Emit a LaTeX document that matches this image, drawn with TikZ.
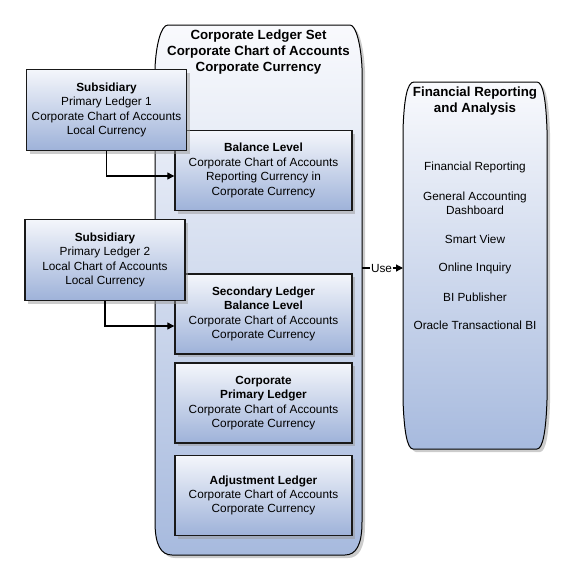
\documentclass[tikz,border=0pt]{standalone}
\usepackage{fontspec}
\setmainfont{Liberation Sans}
\usetikzlibrary{arrows.meta,shadows}
\definecolor{boxtop}{HTML}{F4F6FB}
\definecolor{boxbottom}{HTML}{9EB2D9}
\definecolor{settop}{HTML}{F9FAFD}
\definecolor{setbottom}{HTML}{A7BADE}
\begin{document}
\begin{tikzpicture}[x = 1pt, y = -1pt, line width = 1.2pt, >={Triangle[length=7pt, width=7pt]},
                      shade/.style = {drop shadow = {shadow xshift = 3pt, shadow yshift = -3pt, fill = black!40, opacity = 0.5}},
                      ledger/.style = {shade, draw = black!90, line width = 1.4pt, top color = boxtop, bottom color = boxbottom,
                                       minimum width = 177pt, minimum height = 80pt, inner sep = 0pt, align = center,
                                       font = \fontsize{11.8}{14.4}\selectfont},
                      sub/.style = {ledger, minimum width = 160pt, minimum height = 81pt},
                      frame/.style = {shade, draw = black, line width = 1pt, top color = settop, bottom color = setbottom},
                      head/.style = {align = center, font = \fontsize{13.3}{16}\selectfont\bfseries},
                      item/.style = {align = center, font = \fontsize{11.8}{14.4}\selectfont}]
    \useasboundingbox (0, 0) rectangle (575, 584);
    \draw [frame] (155, 68) .. controls (156, 45) and (161, 25) .. (168, 25) -- (350, 25)
        .. controls (356, 25) and (361, 45) .. (362, 68) -- (362, 522)
        .. controls (362, 545) and (356, 555) .. (345, 555) -- (172, 555)
        .. controls (161, 555) and (155, 545) .. (155, 522) -- cycle;
    \draw [frame] (403, 130) .. controls (404, 100) and (407, 82) .. (414, 82) -- (537, 82)
        .. controls (543, 82) and (546, 100) .. (547, 130) -- (547, 400)
        .. controls (546, 430) and (543, 449) .. (537, 449) -- (413, 449)
        .. controls (407, 449) and (404, 430) .. (403, 400) -- cycle;
    \node [head] (settitle) at (258.5, 52) {Corporate Ledger Set\\Corporate Chart of Accounts\\Corporate Currency};
    \node [head] (reptitle) at (475, 101.5) {Financial Reporting\\and Analysis};
    \node [ledger] (bal) at (263.5, 170.5) {\textbf{Balance Level}\\Corporate Chart of Accounts\\Reporting Currency in\\Corporate Currency};
    \node [ledger] (sec) at (263.5, 314) {\textbf{Secondary Ledger}\\\textbf{Balance Level}\\Corporate Chart of Accounts\\Corporate Currency};
    \node [ledger] (corp) at (263.5, 403) {\textbf{Corporate}\\\textbf{Primary Ledger}\\Corporate Chart of Accounts\\Corporate Currency};
    \node [ledger] (adj) at (263.5, 495.5) {\textbf{Adjustment Ledger}\\Corporate Chart of Accounts\\Corporate Currency};
    \node [sub] (sub1) at (106.5, 110) {\textbf{Subsidiary}\\Primary Ledger 1\\Corporate Chart of Accounts\\Local Currency};
    \node [sub] (sub2) at (105, 260) {\textbf{Subsidiary}\\Primary Ledger 2\\Local Chart of Accounts\\Local Currency};
    \node [item] (fr) at (475, 167) {Financial Reporting};
    \node [item] (gad) at (475, 203) {General Accounting\\Dashboard};
    \node [item] (sv) at (475, 239) {Smart View};
    \node [item] (oi) at (475, 268) {Online Inquiry};
    \node [item] (bip) at (475, 297) {BI Publisher};
    \node [item] (otbi) at (475, 325) {Oracle Transactional BI};
    \node [item, inner sep = 0pt] (use) at (381.5, 268) {Use};
    \coordinate (setout) at (362, 268);
    \coordinate (repin) at (403, 268);
    \draw [->] (sub1.south) |- ([yshift = -5.5pt]bal.west);
    \draw [->] (sub2.south) |- ([yshift = -12pt]sec.west);
    \draw (setout) -- (use);
    \draw [->] (use) -- (repin);
    \end{tikzpicture}
\end{document}
